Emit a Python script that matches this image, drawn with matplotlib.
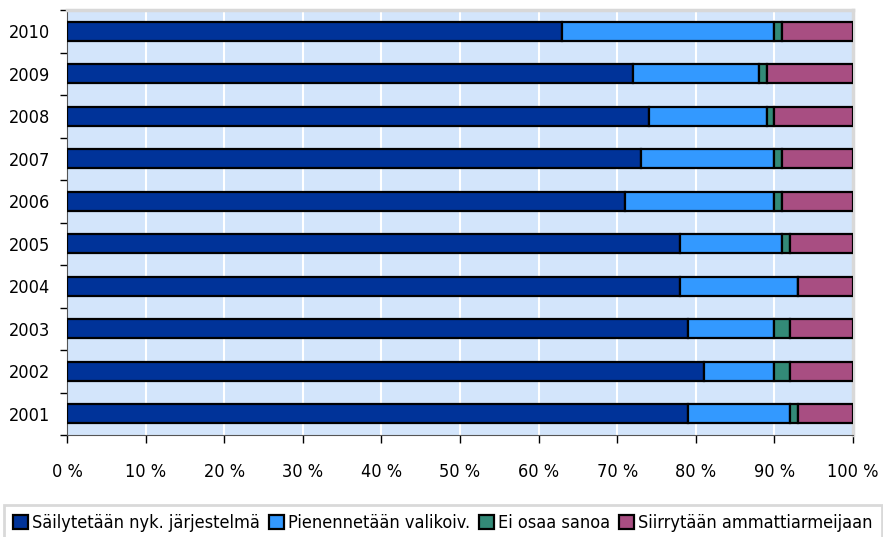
import numpy as np
import matplotlib.pyplot as plt
from matplotlib.ticker import FixedLocator

# data (percent of respondents)
years = ['2001', '2002', '2003', '2004', '2005', '2006', '2007', '2008', '2009', '2010']
sailytetaan = [79, 81, 79, 78, 78, 71, 73, 74, 72, 63]
pienennetaan = [13, 9, 11, 15, 13, 19, 17, 15, 16, 27]
ei_osaa = [1, 2, 2, 0, 1, 1, 1, 1, 1, 1]
siirrytaan = [7, 8, 8, 7, 8, 9, 9, 10, 11, 9]

series = [sailytetaan, pienennetaan, ei_osaa, siirrytaan]
labels = ['Säilytetään nyk. järjestelmä', 'Pienennetään valikoiv.',
          'Ei osaa sanoa', 'Siirrytään ammattiarmeijaan']
colors = ['#003399', '#3399ff', '#338a78', '#a84e82']

plt.rcParams['font.family'] = ['DejaVu Sans']
plt.rcParams['font.stretch'] = 'condensed'

fig = plt.figure(figsize=(8.83, 5.37), dpi=100)
ax = fig.add_axes([67 / 883, 1 - 435 / 537, 786 / 883, 425 / 537])
ax.set_facecolor('#d3e5fb')

y = np.arange(len(years))
left = np.zeros(len(years))
handles = []
for vals, lab, col in zip(series, labels, colors):
    vals = np.array(vals, dtype=float)
    h = ax.barh(y, vals, left=left, height=0.45, color=col,
                edgecolor='black', linewidth=1.6, label=lab, zorder=3)
    handles.append(h)
    left += vals

ax.set_xlim(0, 100)
ax.set_ylim(-0.5, len(years) - 0.5)

# white vertical gridlines
ax.set_xticks(np.arange(0, 101, 10))
ax.set_xticklabels([f'{v} %' for v in range(0, 101, 10)], fontsize=13)
ax.grid(axis='x', color='white', linewidth=1.5, zorder=1)
ax.tick_params(axis='x', direction='out', length=6, width=1, pad=14, color='black')

ax.set_yticks(y)
ax.set_yticklabels(years, fontsize=13)
ax.tick_params(axis='y', which='major', length=0, pad=12)
ax.yaxis.set_minor_locator(FixedLocator(np.arange(-0.5, len(years), 1)))
ax.tick_params(axis='y', which='minor', length=5, width=1, color='black')

for side in ['top', 'right']:
    ax.spines[side].set_color('#d8d8d8')
    ax.spines[side].set_linewidth(2.5)
ax.spines['left'].set_color('#555555')
ax.spines['bottom'].set_color('#555555')

leg = fig.legend(handles=handles, loc='upper left', bbox_to_anchor=(4 / 883, 1 - 505 / 537),
                 ncol=4, fontsize=13, frameon=True, fancybox=False,
                 handlelength=0.85, handleheight=0.85, handletextpad=0.2,
                 columnspacing=0.5, borderpad=0.5, borderaxespad=0)
leg.get_frame().set_edgecolor('#d0d0d0')
leg.get_frame().set_linewidth(2)

fig.savefig('out.png', dpi=100)
